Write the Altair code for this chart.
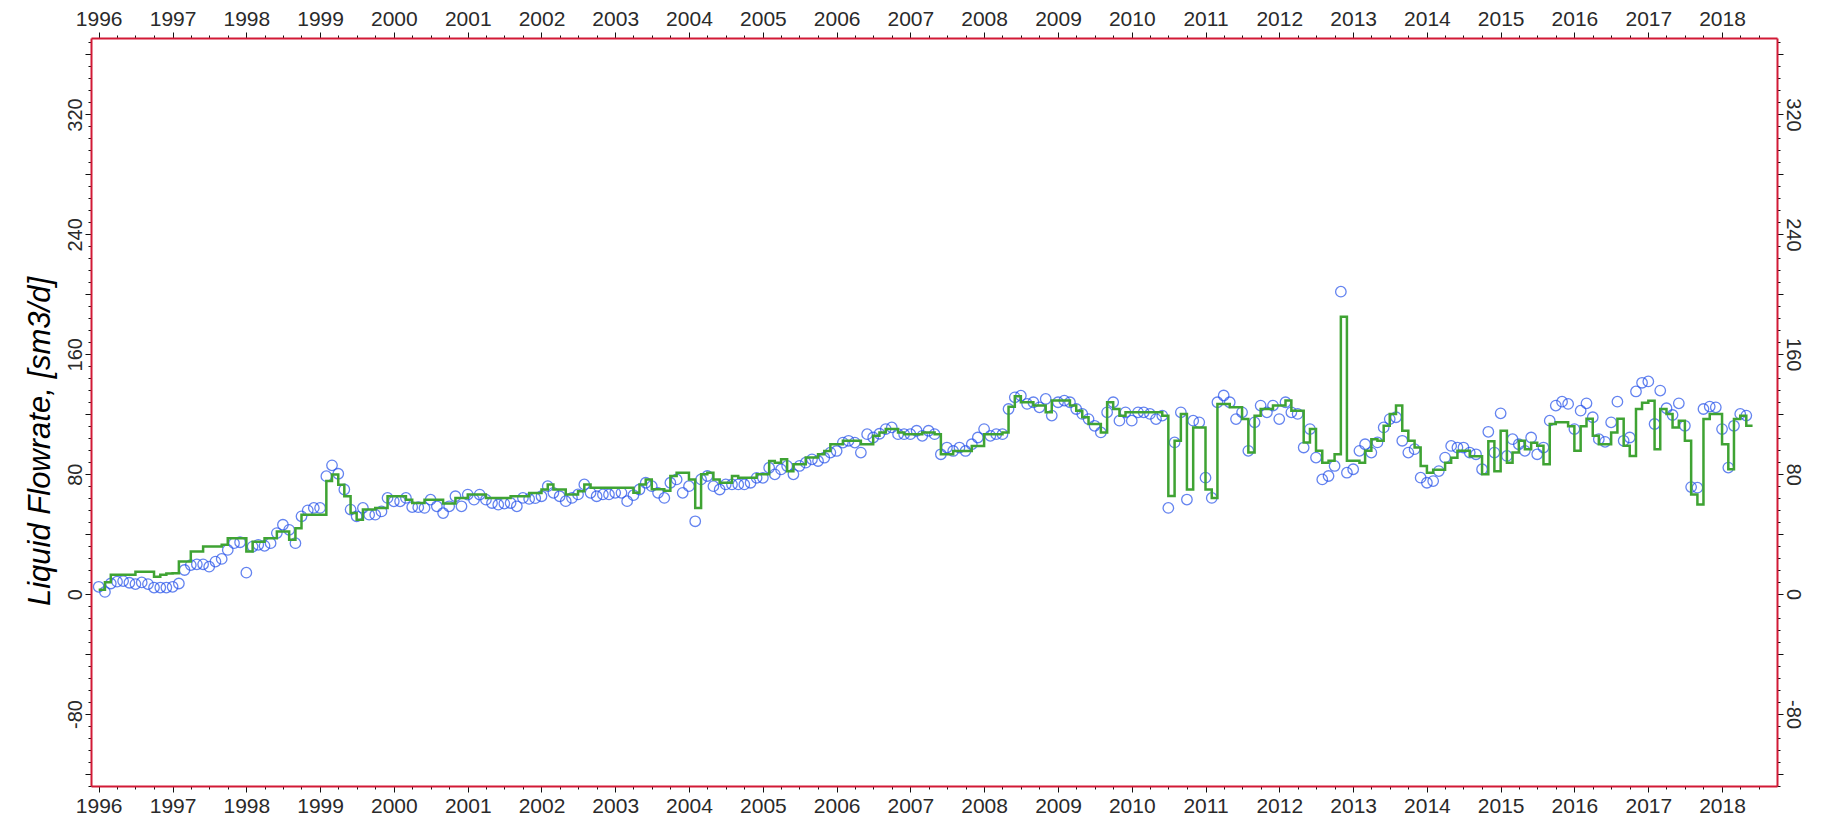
import altair as alt
import pandas as pd

# ---- observed liquid flowrate (monthly, sm3/d) ----
obs_1996 = [4.9, 1.5, 7.1, 8.3, 8.7, 7.6, 6.7, 7.8, 6.7, 4.4, 4.4, 4.4]
obs_1997 = [4.9, 7.1, 16.1, 19.4, 19.9, 19.9, 18.3, 21.7, 23.5, 29.5, 34.0, 34.6]
obs_1998 = [14.3, 31.7, 32.9, 32.2, 34.0, 40.7, 46.3, 42.9, 34.0, 51.9, 55.9, 57.5]
obs_1999 = [57.5, 78.7, 85.9, 80.3, 69.8, 56.4, 51.9, 57.5, 53.0, 53.0, 55.2, 64.2]
obs_2000 = [61.9, 61.9, 64.2, 58.1, 58.0, 57.5, 63.0, 58.6, 54.1, 58.6, 65.3, 58.6]
obs_2001 = [66.4, 63.0, 66.4, 63.0, 60.8, 59.7, 60.4, 60.8, 58.6, 64.2, 63.5, 64.0]
obs_2002 = [65.3, 72.0, 67.6, 65.3, 62.0, 64.2, 66.5, 73.2, 67.6, 65.3, 66.5, 66.5]
obs_2003 = [67.6, 67.6, 62.0, 66.0, 69.8, 74.3, 72.0, 67.6, 64.2, 74.3, 76.5, 67.6]
obs_2004 = [72.0, 48.6, 76.5, 78.8, 72.0, 69.8, 73.2, 73.2, 73.2, 73.2, 74.3, 77.6]
obs_2005 = [77.6, 84.3, 79.9, 83.2, 85.5, 79.9, 85.5, 87.7, 89.9, 88.8, 91.0, 94.4]
obs_2006 = [95.5, 101.1, 102.3, 101.1, 94.4, 106.7, 104.5, 107.0, 110.1, 111.2, 106.7, 106.7]
obs_2007 = [106.7, 109.0, 105.6, 109.0, 106.7, 93.3, 97.8, 95.5, 97.8, 95.5, 100.0, 104.5]
obs_2008 = [110.1, 105.6, 106.7, 106.7, 123.5, 131.3, 132.4, 126.9, 128.0, 124.6, 130.2, 119.1]
obs_2009 = [128.0, 129.1, 128.0, 123.5, 120.2, 116.8, 112.3, 107.9, 121.3, 128.0, 115.7, 121.3]
obs_2010 = [115.7, 121.3, 121.3, 120.2, 116.8, 119.1, 57.5, 101.2, 121.3, 63.1, 115.7, 114.6]
obs_2011 = [77.7, 64.2, 128.0, 132.5, 128.0, 116.8, 121.3, 95.6, 114.6, 125.8, 121.3, 125.8]
obs_2012 = [116.8, 128.0, 121.3, 120.2, 97.8, 110.1, 91.1, 76.5, 78.8, 85.5, 201.8, 81.0]
obs_2013 = [83.3, 95.6, 100.0, 94.4, 101.2, 111.2, 116.8, 118.0, 102.3, 94.4, 96.7, 77.7]
obs_2014 = [74.3, 75.4, 82.1, 91.1, 98.9, 97.8, 97.8, 94.4, 93.3, 83.3, 108.3, 94.4]
obs_2015 = [120.6, 92.2, 103.4, 100.0, 95.6, 104.5, 93.3, 97.8, 115.7, 125.8, 128.4, 126.9]
obs_2016 = [110.1, 122.4, 127.3, 118.0, 103.4, 101.6, 114.6, 128.4, 102.3, 104.5, 135.2, 141.0]
obs_2017 = [141.9, 113.5, 135.8, 124.0, 119.5, 127.3, 112.3, 71.4, 71.0, 123.5, 125.1, 124.6]
obs_2018 = [110.1, 84.4, 112.3, 120.2, 119.1]

# ---- simulated liquid flowrate (monthly steps, sm3/d) ----
sim_1996 = [3.0, 8.0, 13.0, 13.0, 13.0, 13.0, 15.0, 15.0, 15.0, 11.6, 13.0, 13.8]
sim_1997 = [14.0, 21.7, 21.7, 28.4, 28.4, 31.7, 31.7, 31.7, 32.9, 37.3, 37.3, 37.3]
sim_1998 = [28.4, 35.0, 35.0, 37.3, 37.3, 41.8, 41.8, 36.2, 44.0, 53.0, 53.0, 53.0]
sim_1999 = [53.0, 75.4, 79.8, 73.0, 65.3, 54.1, 49.6, 56.4, 56.4, 57.5, 57.5, 65.3]
sim_2000 = [65.3, 65.3, 63.0, 60.8, 60.8, 63.0, 63.0, 63.0, 60.4, 60.4, 64.2, 64.2]
sim_2001 = [66.4, 66.4, 66.4, 64.2, 64.2, 64.2, 64.2, 65.3, 65.3, 65.3, 67.5, 67.5]
sim_2002 = [69.8, 73.2, 69.8, 69.8, 66.5, 66.5, 68.7, 73.2, 71.0, 71.0, 71.0, 71.0]
sim_2003 = [71.0, 71.0, 71.0, 67.6, 73.2, 76.5, 70.0, 70.0, 69.0, 78.8, 81.0, 81.0]
sim_2004 = [76.5, 57.5, 79.9, 81.0, 76.5, 74.3, 74.3, 78.8, 77.6, 77.6, 77.6, 79.9]
sim_2005 = [79.9, 88.8, 87.7, 90.0, 82.0, 86.6, 86.6, 91.1, 91.1, 93.3, 95.5, 100.0]
sim_2006 = [100.0, 102.3, 102.3, 102.3, 100.0, 100.0, 105.6, 107.9, 110.1, 110.1, 107.9, 106.7]
sim_2007 = [106.7, 106.7, 107.9, 107.9, 106.7, 93.3, 93.3, 95.5, 95.5, 95.5, 98.9, 98.9]
sim_2008 = [106.7, 106.7, 106.7, 107.9, 125.0, 132.0, 128.0, 128.0, 125.8, 125.8, 121.3, 129.1]
sim_2009 = [129.1, 129.1, 125.8, 122.4, 118.0, 113.5, 113.5, 107.9, 128.0, 123.5, 119.0, 121.3]
sim_2010 = [121.3, 121.3, 121.3, 121.3, 121.3, 119.0, 65.4, 102.3, 120.2, 69.8, 111.2, 111.2]
sim_2011 = [69.8, 64.2, 126.9, 126.9, 124.6, 124.6, 116.8, 94.4, 119.0, 123.5, 123.5, 125.8]
sim_2012 = [125.8, 129.1, 122.4, 122.4, 101.2, 110.1, 95.6, 87.7, 88.9, 93.3, 185.0, 88.9]
sim_2013 = [88.9, 87.7, 95.6, 103.4, 102.3, 112.3, 120.2, 125.8, 109.0, 102.3, 97.8, 85.5]
sim_2014 = [81.0, 83.0, 83.0, 87.7, 91.0, 95.6, 95.6, 92.0, 92.0, 80.0, 102.0, 82.0]
sim_2015 = [109.0, 87.7, 94.4, 102.3, 96.7, 101.0, 99.0, 86.6, 113.5, 114.6, 114.6, 112.0]
sim_2016 = [95.6, 112.0, 117.0, 105.6, 100.0, 100.0, 107.9, 117.0, 99.0, 92.2, 123.5, 127.6]
sim_2017 = [129.0, 96.7, 123.5, 120.2, 111.2, 115.7, 102.3, 66.5, 59.8, 116.8, 120.2, 120.2]
sim_2018 = [100.0, 83.3, 116.8, 119.0, 112.3]

observed = (obs_1996 + obs_1997 + obs_1998 + obs_1999 + obs_2000 + obs_2001 + obs_2002
            + obs_2003 + obs_2004 + obs_2005 + obs_2006 + obs_2007 + obs_2008 + obs_2009
            + obs_2010 + obs_2011 + obs_2012 + obs_2013 + obs_2014 + obs_2015 + obs_2016
            + obs_2017 + obs_2018)
simulated = (sim_1996 + sim_1997 + sim_1998 + sim_1999 + sim_2000 + sim_2001 + sim_2002
             + sim_2003 + sim_2004 + sim_2005 + sim_2006 + sim_2007 + sim_2008 + sim_2009
             + sim_2010 + sim_2011 + sim_2012 + sim_2013 + sim_2014 + sim_2015 + sim_2016
             + sim_2017 + sim_2018)

obs_dates = pd.date_range("1996-01-01", periods=len(observed), freq="MS").strftime("%Y-%m-%d").tolist()
# step line: each value holds until the next month; last step closes at the following month
sim_dates = pd.date_range("1996-01-01", periods=len(simulated) + 1, freq="MS").strftime("%Y-%m-%d").tolist()
sim_values = simulated + [simulated[-1]]

df_obs = pd.DataFrame({"date": obs_dates, "rate": observed})
df_sim = pd.DataFrame({"date": sim_dates, "rate": sim_values})

# axis tick positions
years = list(range(1996, 2019))
quarter_ticks = [alt.DateTime(year=y, month=m, date=1, utc=True)
                 for y in years for m in (1, 4, 7, 10) if not (y == 2018 and m == 10)]
y_ticks = list(range(-128, 369, 8))

RED = "#d21a36"
FONT = "Liberation Sans"
LABEL = "#2a2a2a"

x_scale = alt.Scale(type="utc",
                    domain=[alt.DateTime(year=1995, month=11, date=24, utc=True),
                            alt.DateTime(year=2018, month=9, date=30, utc=True)])
y_scale = alt.Scale(domain=[-128, 371], nice=False, zero=False)

x_tick_size = {"condition": {"test": "utcmonth(datum.value) == 0", "value": 6}, "value": 3}
y_tick_size = {"condition": {"test": "datum.value % 40 == 0", "value": 6}, "value": 3}
x_label_expr = "utcmonth(datum.value) == 0 ? utcFormat(datum.value, '%Y') : ''"
y_label_expr = "datum.value % 80 == 0 ? '' + datum.value : ''"

def x_axis(orient):
    return alt.Axis(orient=orient, values=quarter_ticks, tickSize=x_tick_size,
                    labelExpr=x_label_expr, grid=False, title=None,
                    domainColor=RED, domainWidth=2, tickColor="#111", tickWidth=1,
                    labelFont=FONT, labelFontSize=21, labelColor=LABEL,
                    labelPadding=3, labelFlush=False, labelOverlap=False)

def y_axis(orient, angle, pad, **kw):
    return alt.Axis(orient=orient, values=y_ticks, tickSize=y_tick_size,
                    labelExpr=y_label_expr, grid=False,
                    domainColor=RED, domainWidth=2, tickColor="#111", tickWidth=1,
                    labelFont=FONT, labelFontSize=20, labelColor=LABEL,
                    labelAngle=angle, labelAlign="center", labelBaseline="alphabetic",
                    labelPadding=pad, labelOverlap=False, **kw)

points = alt.Chart(df_obs).mark_point(
    shape="circle", filled=False, size=110, strokeWidth=1.3, color="#2350ea"
).encode(
    x=alt.X("date:T", scale=x_scale, axis=x_axis("bottom")),
    y=alt.Y("rate:Q", scale=y_scale,
            axis=y_axis("left", 270, 4, title="Liquid Flowrate, [sm3/d]",
                        titleFont=FONT, titleFontSize=31, titleFontStyle="italic",
                        titleFontWeight="normal", titleColor="#000",
                        titleAngle=270, titleX=-51, titleY=403,
                        titleAlign="center", titleBaseline="middle")),
)

line = alt.Chart(df_sim).mark_line(
    interpolate="step-after", color="#3fa333", strokeWidth=2.5
).encode(
    x=alt.X("date:T", scale=x_scale, axis=x_axis("top")),
    y=alt.Y("rate:Q", scale=y_scale, axis=y_axis("right", 90, 3, title=None)),
)

chart = alt.layer(points, line).resolve_axis(
    x="independent", y="independent"
).properties(
    width=1686, height=748,
    autosize=alt.AutoSizeParams(type="none"),
    padding={"left": 83, "top": 30, "right": 36, "bottom": 30},
    background="white",
).configure_view(stroke=None)

chart.save("out.html", embed_options={"renderer": "svg", "actions": False})
